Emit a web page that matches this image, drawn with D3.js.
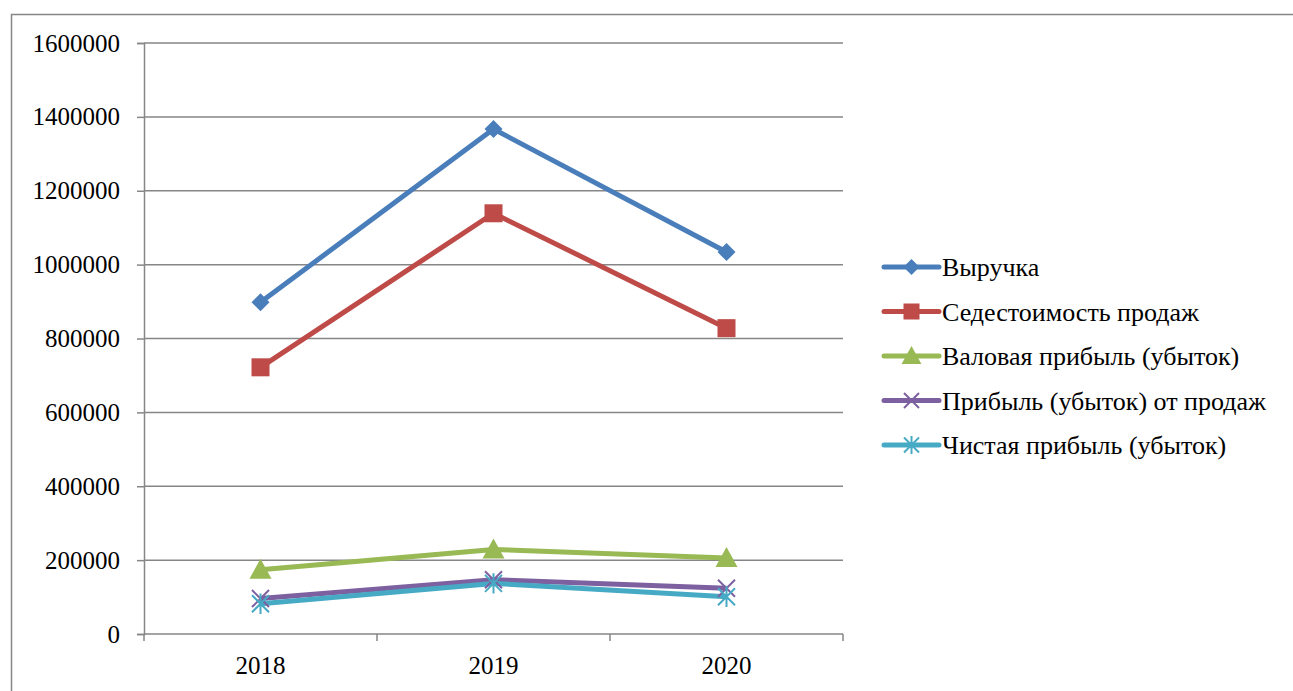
<!DOCTYPE html>
<html>
<head>
<meta charset="utf-8">
<script src="https://cdn.jsdelivr.net/npm/d3@7"></script>
<style>
  html, body { margin: 0; padding: 0; background: #fff; overflow: hidden; }
  svg { display: block; }
</style>
</head>
<body>
<svg id="chart" width="1293" height="691"></svg>
<script>
'use strict';
const YEARS = ['2018', '2019', '2020'];
const SERIES = ['Выручка', 'Седестоимость продаж', 'Валовая прибыль (убыток)', 'Прибыль (убыток) от продаж', 'Чистая прибыль (убыток)'];
const REVENUE = [898000, 1367000, 1034000];
const COST = [722000, 1139000, 828000];
const GROSS = [174000, 229000, 206000];
const SALES_PROFIT = [96000, 147000, 124000];
const NET_PROFIT = [82000, 137000, 101000];
const Y_TICKS = [0, 200000, 400000, 600000, 800000, 1000000, 1200000, 1400000, 1600000];

const COLORS = ['#4a7ebb', '#be4b48', '#98b954', '#7d60a0', '#46aac5'];
const MARKERS = ['diamond', 'square', 'triangle', 'x', 'star'];
const VALUES = [REVENUE, COST, GROSS, SALES_PROFIT, NET_PROFIT];

const svg = d3.select('#chart');
const plot = { left: 144, right: 843, top: 43, bottom: 634 };
const FONT = 'Liberation Serif';

// outer frame (runs off the right/bottom edge)
svg.append('path')
  .attr('d', 'M11.5,700 V14.5 H1300')
  .attr('fill', 'none')
  .attr('stroke', '#868686')
  .attr('stroke-width', 1.5);

const x = d3.scaleBand().domain(YEARS).range([plot.left, plot.right]);
const y = d3.scaleLinear().domain([0, 1600000]).range([plot.bottom, plot.top]);

// Y grid + axis
const yAxis = svg.append('g')
  .attr('transform', `translate(${plot.left},0)`)
  .call(d3.axisLeft(y).tickValues(Y_TICKS).tickFormat(d3.format('d')).tickSize(7).tickPadding(17));
yAxis.attr('font-family', FONT).attr('font-size', 25);
yAxis.select('.domain').attr('stroke', '#868686').attr('stroke-width', 1.5);
yAxis.selectAll('.tick line').attr('stroke', '#868686').attr('stroke-width', 1.5);
yAxis.selectAll('.tick text').attr('fill', '#000');

svg.append('g').selectAll('line')
  .data(Y_TICKS.filter((d) => d > 0))
  .enter()
  .append('line')
  .attr('x1', plot.left).attr('x2', plot.right)
  .attr('y1', (d) => y(d)).attr('y2', (d) => y(d))
  .attr('stroke', '#868686')
  .attr('stroke-width', 1.5);

// X axis
const xAxis = svg.append('g')
  .attr('transform', `translate(0,${plot.bottom})`)
  .call(d3.axisBottom(x).tickSize(0).tickPadding(22));
xAxis.attr('font-family', FONT).attr('font-size', 25);
xAxis.select('.domain').remove();
xAxis.selectAll('.tick text').attr('fill', '#000');
svg.append('line')
  .attr('x1', plot.left).attr('x2', plot.right)
  .attr('y1', plot.bottom).attr('y2', plot.bottom)
  .attr('stroke', '#868686').attr('stroke-width', 1.5);
svg.append('g').selectAll('line')
  .data(YEARS.concat(['end']))
  .enter()
  .append('line')
  .attr('x1', (d, i) => i < YEARS.length ? x(d) : plot.right)
  .attr('x2', (d, i) => i < YEARS.length ? x(d) : plot.right)
  .attr('y1', plot.bottom).attr('y2', plot.bottom + 7)
  .attr('stroke', '#868686').attr('stroke-width', 1.5);

// markers
function drawMarker(g, type, color, size) {
  const s = size / 2;
  if (type === 'diamond') {
    g.append('path').attr('d', `M0,${-s} L${s},0 L0,${s} L${-s},0 Z`).attr('fill', color);
  } else if (type === 'square') {
    g.append('rect').attr('x', -s).attr('y', -s).attr('width', size).attr('height', size).attr('fill', color);
  } else if (type === 'triangle') {
    g.append('path').attr('d', `M0,${-s * 1.1} L${s * 1.1},${s * 0.9} L${-s * 1.1},${s * 0.9} Z`).attr('fill', color);
  } else if (type === 'x') {
    g.append('path').attr('d', `M${-s},${-s} L${s},${s} M${s},${-s} L${-s},${s}`)
      .attr('stroke', color).attr('stroke-width', 2);
  } else {
    g.append('path').attr('d', `M${-s},${-s} L${s},${s} M${s},${-s} L${-s},${s} M0,${-s * 1.2} V${s * 1.2}`)
      .attr('stroke', color).attr('stroke-width', 2);
  }
}
const MARKER_SIZE = [18, 18, 20, 17, 17];

const line = d3.line()
  .x((d, i) => x(YEARS[i]) + x.bandwidth() / 2)
  .y((d) => y(d));

VALUES.forEach((vals, k) => {
  svg.append('path')
    .datum(vals)
    .attr('d', line)
    .attr('fill', 'none')
    .attr('stroke', COLORS[k])
    .attr('stroke-width', 5)
    .attr('stroke-linejoin', 'round');
});
VALUES.forEach((vals, k) => {
  vals.forEach((v, i) => {
    const g = svg.append('g')
      .attr('transform', `translate(${x(YEARS[i]) + x.bandwidth() / 2},${y(v)})`);
    drawMarker(g, MARKERS[k], COLORS[k], MARKER_SIZE[k]);
  });
});

// legend
const legend = svg.append('g').attr('transform', 'translate(884,267)');
SERIES.forEach((name, k) => {
  const g = legend.append('g').attr('transform', `translate(0,${k * 44.5})`);
  g.append('line').attr('x1', 0).attr('x2', 55).attr('y1', 0).attr('y2', 0)
    .attr('stroke', COLORS[k]).attr('stroke-width', 5).attr('stroke-linecap', 'round');
  const m = g.append('g').attr('transform', 'translate(27.5,0)');
  drawMarker(m, MARKERS[k], COLORS[k], MARKER_SIZE[k] - 2);
  g.append('text')
    .attr('x', 58).attr('y', 9)
    .attr('font-family', FONT)
    .attr('font-size', 26)
    .attr('fill', '#000')
    .text(name);
});
</script>
</body>
</html>
